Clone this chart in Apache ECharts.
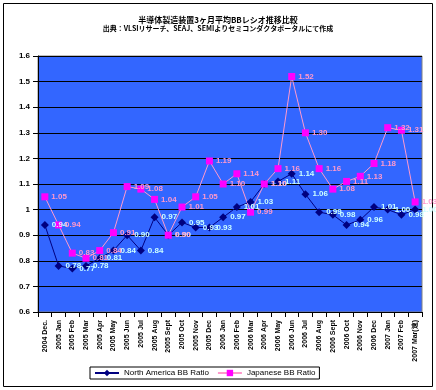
<!DOCTYPE html>
<html><head><meta charset="utf-8">
<script src="https://cdn.jsdelivr.net/npm/echarts@6/dist/echarts.min.js"></script>
<style>html,body{margin:0;padding:0;background:#fff}#c{width:436px;height:390px}</style>
</head><body><div id="c"></div>
<script>
var categories = ["2004 Dec.","2005 Jan","2005 Feb","2005 Mar","2005 Apr","2005 May","2005 Jun","2005 Jul","2005 Aug","2005 Sept","2005 Oct","2005 Nov","2005 Dec","2006 Jan","2006 Feb","2006 Mar","2006 Apr","2006 May","2006 Jun","2006 Jul","2006 Aug","2006 Sept","2006 Oct","2006 Nov","2006 Dec","2007 Jan","2007 Feb","2007 Mar(速)"];
var northAmerica = [0.94,0.78,0.77,0.78,0.81,0.84,0.90,0.84,0.97,0.90,0.95,0.93,0.93,0.97,1.01,1.03,1.10,1.11,1.14,1.06,0.99,0.98,0.94,0.96,1.01,1.00,0.98,1.00];
var japanese = [1.05,0.94,0.83,0.81,0.84,0.91,1.09,1.08,1.04,0.90,1.01,1.05,1.19,1.10,1.14,0.99,1.10,1.16,1.52,1.30,1.16,1.08,1.11,1.13,1.18,1.32,1.31,1.03];
var yTicks = {min:0.6, max:1.6, interval:0.1};

var chart = echarts.init(document.getElementById('c'));
var lblFont = 'Liberation Sans, Arial, sans-serif';
chart.setOption({
  animation:false,
  backgroundColor:'#fff',
  title:{
    text:'半導体製造装置3ヶ月平均BBレシオ推移比較',
    subtext:'出典：VLSIリサーチ、SEAJ、SEMIよりセミコンダクタポータルにて作成',
    left:'center', top:11, itemGap:1,
    textStyle:{fontSize:8,fontWeight:'bold',color:'#000',fontFamily:'Noto Sans CJK JP'},
    subtextStyle:{fontSize:7,fontWeight:'bold',color:'#000',fontFamily:'Noto Sans CJK JP'}
  },
  graphic:[{type:'rect',shape:{x:3.5,y:3.5,width:429,height:383},style:{fill:'none',stroke:'#000',lineWidth:1},silent:true}],
  grid:{left:38,right:14,top:56,bottom:78,show:true,backgroundColor:'#3366FF',borderColor:'#808080',borderWidth:1},
  legend:{
    bottom:11, left:90,
    data:['North America BB Ratio','Japanese BB Ratio'],
    itemWidth:24,itemHeight:8,itemGap:8,
    borderColor:'#000',borderWidth:1,padding:[2,4],
    textStyle:{fontSize:8,color:'#000',fontFamily:lblFont}
  },
  xAxis:{
    type:'category', data:categories, boundaryGap:true,
    axisLine:{lineStyle:{color:'#000'}},
    axisTick:{show:true,lineStyle:{color:'#000'}},
    axisLabel:{rotate:90,fontSize:7,color:'#000',interval:0,fontFamily:lblFont,fontWeight:'bold'}
  },
  yAxis:{
    type:'value', min:yTicks.min, max:yTicks.max, interval:yTicks.interval,
    axisLine:{show:true,lineStyle:{color:'#000'}},
    axisTick:{show:true,lineStyle:{color:'#000'}},
    splitLine:{lineStyle:{color:'#000',width:1}},
    axisLabel:{fontSize:8,color:'#000',fontWeight:'bold',fontFamily:lblFont,
      formatter:function(v){var r=Math.round(v*10)/10;return r===1?'1':r.toFixed(1);}}
  },
  series:[
    {name:'North America BB Ratio',type:'line',data:northAmerica,
     symbol:'diamond',symbolSize:8,
     itemStyle:{color:'#000080'},lineStyle:{color:'#000080',width:1},
     label:{show:true,position:'right',distance:3,fontSize:8,fontWeight:'bold',color:'#CCFFFF',fontFamily:lblFont,
       formatter:function(p){return p.value.toFixed(2);}}},
    {name:'Japanese BB Ratio',type:'line',data:japanese,
     symbol:'rect',symbolSize:7,
     itemStyle:{color:'#FF00FF'},lineStyle:{color:'#FF99CC',width:1},
     label:{show:true,position:'right',distance:3,fontSize:8,fontWeight:'bold',color:'#FF99CC',fontFamily:lblFont,
       formatter:function(p){return p.value.toFixed(2);}}}
  ]
});
</script></body></html>
